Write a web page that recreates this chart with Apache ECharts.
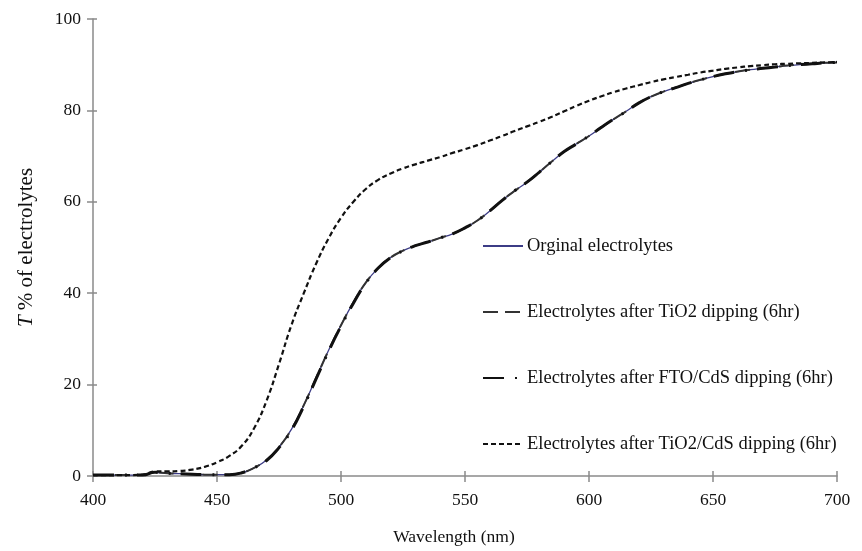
<!DOCTYPE html>
<html>
<head>
<meta charset="utf-8">
<script src="https://cdn.jsdelivr.net/npm/echarts@6/dist/echarts.min.js"></script>
<style>
  html, body { margin: 0; padding: 0; background: #fff; }
  #chart_trans { width: 862px; height: 551px; }
</style>
</head>
<body>
<div id="chart_trans"></div>
<script>
// wavelength (nm), 5 nm steps
const wavelength = [400, 405, 410, 415, 420, 425, 430, 435, 440, 445, 450, 455, 460, 465, 470, 475, 480, 485, 490, 495,
  500, 505, 510, 515, 520, 525, 530, 535, 540, 545, 550, 555, 560, 565, 570, 575, 580, 585, 590, 595,
  600, 605, 610, 615, 620, 625, 630, 635, 640, 645, 650, 655, 660, 665, 670, 675, 680, 685, 690, 695, 700];

const seriesNames = [
  'Orginal electrolytes',
  'Electrolytes after TiO2 dipping (6hr)',
  'Electrolytes after FTO/CdS dipping (6hr)',
  'Electrolytes after TiO2/CdS dipping (6hr)'
];

const orginal = [0.2, 0.2, 0.2, 0.2, 0.2, 0.8, 0.6, 0.5, 0.4, 0.3, 0.3, 0.3, 0.7, 1.8, 3.5, 6.3, 10.2, 15.5, 21.5, 27.5,
  33, 38, 42.3, 45.5, 47.8, 49.3, 50.4, 51.2, 52.1, 53, 54.3, 55.9, 58, 60.3, 62.4, 64.3, 66.5, 68.8, 71, 72.7,
  74.4, 76.3, 78.1, 79.8, 81.6, 83, 84.1, 85, 85.9, 86.7, 87.4, 88, 88.5, 88.9, 89.2, 89.5, 89.8, 90, 90.2, 90.4, 90.5];

const tio2Dip = [0.2, 0.2, 0.2, 0.2, 0.2, 0.8, 0.6, 0.5, 0.4, 0.3, 0.3, 0.3, 0.7, 1.8, 3.5, 6.3, 10.2, 15.5, 21.5, 27.5,
  33, 38, 42.3, 45.5, 47.8, 49.3, 50.4, 51.2, 52.1, 53, 54.3, 55.9, 58, 60.3, 62.4, 64.3, 66.5, 68.8, 71, 72.7,
  74.4, 76.3, 78.1, 79.8, 81.6, 83, 84.1, 85, 85.9, 86.7, 87.4, 88, 88.5, 88.9, 89.2, 89.5, 89.8, 90, 90.2, 90.4, 90.5];

const ftoCdsDip = [0.2, 0.2, 0.2, 0.2, 0.2, 0.8, 0.6, 0.5, 0.4, 0.3, 0.3, 0.3, 0.7, 1.8, 3.4, 6.2, 10, 15.3, 21.3, 27.3,
  32.8, 37.8, 42.2, 45.5, 47.8, 49.3, 50.4, 51.2, 52.1, 53, 54.3, 55.9, 58, 60.3, 62.4, 64.3, 66.5, 68.8, 71, 72.7,
  74.4, 76.3, 78.1, 79.8, 81.6, 83, 84.1, 85, 85.9, 86.7, 87.4, 88, 88.5, 88.9, 89.2, 89.5, 89.8, 90, 90.2, 90.4, 90.5];

const tio2CdsDip = [0.2, 0.2, 0.2, 0.2, 0.3, 1.0, 1.0, 1.1, 1.4, 2.0, 3.0, 4.4, 6.6, 10.5, 16.5, 24.5, 33, 40, 46.5, 52,
  56.5, 60, 62.8, 64.8, 66.2, 67.3, 68.2, 69, 69.8, 70.7, 71.5, 72.4, 73.4, 74.4, 75.5, 76.5, 77.5, 78.6, 79.8, 81,
  82.1, 83.1, 84, 84.8, 85.5, 86.2, 86.8, 87.3, 87.8, 88.3, 88.7, 89.1, 89.4, 89.7, 89.9, 90.1, 90.2, 90.3, 90.4, 90.5, 90.6];

const xTicks = { min: 400, max: 700, interval: 50 };
const yTicks = { min: 0, max: 100, interval: 20 };

const font = 'Liberation Serif';

function pairs (ys) {
  return wavelength.map((w, i) => [w, ys[i]]);
}

const chart = echarts.init(document.getElementById('chart_trans'));

const axisLine = { show: true, lineStyle: { color: '#8a8a8a', width: 1.5 } };

let option = {
  animation: false,
  grid: { left: 93, right: 25, top: 19, bottom: 68 },
  legend: {
    orient: 'vertical',
    left: 477,
    top: 231,
    itemWidth: 40,
    itemHeight: 14,
    itemGap: 46,
    itemStyle: { opacity: 0 },
    textStyle: { fontFamily: font, fontSize: 18.5, color: '#111', lineHeight: 20, padding: [0, 0, 0, -1] },
    data: seriesNames
  },
  xAxis: [
    {
      type: 'value',
      min: xTicks.min, max: xTicks.max, interval: xTicks.interval,
      name: 'Wavelength (nm)',
      nameLocation: 'middle',
      nameGap: 52,
      nameTextStyle: { fontFamily: font, fontSize: 17.5, color: '#111', padding: [0, 22, 0, 0] },
      axisLine: axisLine,
      axisTick: { show: true, length: 6, lineStyle: { color: '#8a8a8a', width: 1.5 } },
      axisLabel: { fontFamily: font, fontSize: 17.5, color: '#111', margin: 15 },
      splitLine: { show: false }
    },
    {
      type: 'value',
      position: 'bottom',
      min: xTicks.min, max: xTicks.max, interval: xTicks.interval,
      axisLine: { show: false },
      axisTick: { show: true, inside: true, length: 5, lineStyle: { color: '#8a8a8a', width: 1.5 } },
      axisLabel: { show: false },
      splitLine: { show: false }
    }
  ],
  yAxis: [
    {
      type: 'value',
      min: yTicks.min, max: yTicks.max, interval: yTicks.interval,
      name: '{i|T} % of electrolytes',
      nameLocation: 'middle',
      nameGap: 56,
      nameTextStyle: {
        fontFamily: font, fontSize: 21, color: '#111',
        rich: { i: { fontFamily: font, fontSize: 21, fontStyle: 'italic', color: '#111' } }
      },
      axisLine: axisLine,
      axisTick: { show: true, length: 6, lineStyle: { color: '#8a8a8a', width: 1.5 } },
      axisLabel: { fontFamily: font, fontSize: 17.5, color: '#111', margin: 12 },
      splitLine: { show: false }
    },
    {
      type: 'value',
      position: 'left',
      min: yTicks.min, max: yTicks.max, interval: yTicks.interval,
      axisLine: { show: false },
      axisTick: { show: true, inside: true, length: 4, lineStyle: { color: '#8a8a8a', width: 1.5 } },
      axisLabel: { show: false },
      splitLine: { show: false }
    }
  ],
  series: [
    {
      name: seriesNames[0],
      type: 'line',
      data: pairs(orginal),
      smooth: true,
      symbol: 'none',
      color: '#3c3c86',
      lineStyle: { width: 1.3, color: '#3c3c86', type: 'solid' },
      z: 2
    },
    {
      name: seriesNames[1],
      type: 'line',
      data: pairs(tio2Dip),
      smooth: true,
      symbol: 'none',
      color: '#333',
      lineStyle: { width: 2, color: '#333', type: [15, 7] },
      z: 3
    },
    {
      name: seriesNames[2],
      type: 'line',
      data: pairs(ftoCdsDip),
      smooth: true,
      symbol: 'none',
      color: '#111',
      lineStyle: { width: 3, color: '#111', type: [21, 11, 2, 10] },
      z: 4
    },
    {
      name: seriesNames[3],
      type: 'line',
      data: pairs(tio2CdsDip),
      smooth: true,
      symbol: 'none',
      color: '#111',
      lineStyle: { width: 2.2, color: '#111', type: [5, 3] },
      z: 5
    }
  ]
};

chart.setOption(option);
</script>
</body>
</html>
